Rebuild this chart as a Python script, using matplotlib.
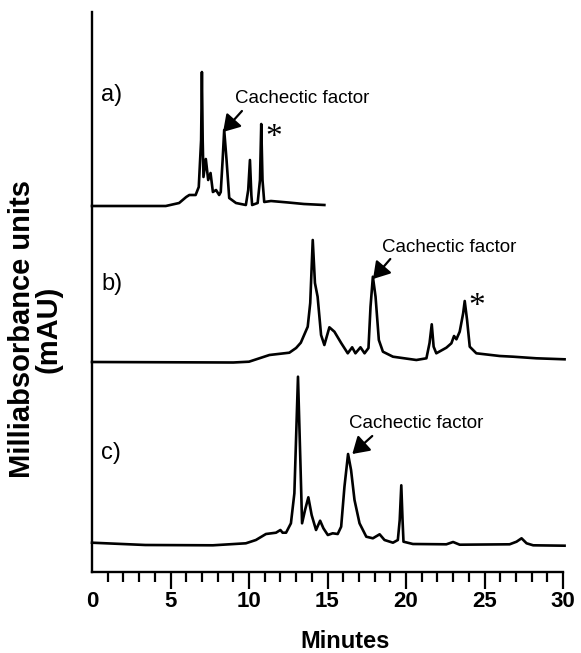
"""
HPLC chromatograms a) b) c) with the cachectic factor peak marked.
Trace values are read off the printed figure (mAU above each trace's baseline).
"""

import numpy as np
import matplotlib
matplotlib.use("Agg")
import matplotlib.pyplot as plt
from matplotlib.ticker import MultipleLocator

plt.rcParams["font.family"] = ["Liberation Sans", "DejaVu Sans"]

# ── data: retention time (min) and absorbance above baseline (mAU) ──
time_a = [0.0, 4.7, 5.55, 6.0, 6.2, 6.6, 6.8, 6.95, 7.0, 7.05, 7.1, 7.25, 7.4,
          7.55, 7.7, 7.9, 8.1, 8.2, 8.32, 8.42, 8.57, 8.74, 9.17, 9.8, 9.95,
          10.06, 10.15, 10.2, 10.55, 10.7, 10.78, 10.86, 10.97, 11.4, 12.5,
          13.5, 14.8]
mau_a = [0, 0, 3, 9, 11, 11, 19, 66, 134, 66, 29, 47, 26,
         33, 14, 16, 11, 14, 46, 76, 46, 8, 3, 1, 16,
         46, 11, 1, 3, 26, 82, 26, 4, 5, 3.5,
         2, 1]

time_b = [0.0, 9.0, 10.0, 11.3, 12.57, 13.0, 13.3, 13.74, 13.9, 14.06, 14.2,
          14.37, 14.59, 14.8, 15.12, 15.44, 15.87, 16.29, 16.57, 16.78, 17.1,
          17.36, 17.61, 17.74, 17.89, 18.06, 18.27, 18.53, 19.17, 20.66, 21.3,
          21.5, 21.64, 21.76, 21.93, 22.57, 22.89, 23.06, 23.21, 23.42, 23.64,
          23.74, 23.89, 24.06, 24.48, 25.97, 26.82, 28.3, 30.1]
mau_b = [0, -0.5, 0.3, 7, 9.3, 14, 19.3, 35.3, 59, 122, 79,
         65.3, 27, 17, 34.7, 30.3, 19, 8.7, 14.7, 8.7, 14.7,
         8.7, 14, 55.3, 85.3, 65.3, 22, 10.3, 5.3, 2, 3.7,
         19, 37.7, 15.3, 8.7, 14.3, 18.7, 26, 22.7, 30.3, 48.7,
         61, 42, 15.3, 8.7, 6, 5.3, 3.7, 2.7]

time_c = [0.0, 3.4, 7.7, 9.8, 10.44, 11.08, 11.72, 12.0, 12.14, 12.36, 12.67,
          12.89, 13.12, 13.27, 13.38, 13.57, 13.78, 13.99, 14.27, 14.53, 14.74,
          15.02, 15.33, 15.65, 15.87, 16.08, 16.31, 16.5, 16.72, 17.04, 17.47,
          17.89, 18.32, 18.63, 19.17, 19.48, 19.6, 19.7, 19.78, 19.84, 20.44,
          22.57, 23.0, 23.42, 26.6, 27.04, 27.36, 27.68, 28.1, 30.1]
mau_c = [2.3, 0, -0.3, 1.7, 5, 11, 12.3, 15, 12.3, 12.3, 21.7,
         51.7, 168.3, 85, 21.7, 35, 47.7, 30, 15, 24.3, 16.7,
         10, 11.7, 11, 18.3, 58.3, 91, 75, 45, 21.7, 8.3,
         6.7, 10.7, 5, 2.3, 5, 25, 59.7, 25, 3.3, 1,
         0.7, 3, 0.3, 0.7, 3.3, 6.7, 1.7, -0.3, -0.7]

panel_labels = ["a)", "b)", "c)"]
peak_label = "Cachectic factor"
x_ticks = [0, 5, 10, 15, 20, 25, 30]

# ── layout (data units of the stacked axis) ──
BASELINES = [366, 210, 27]
LABEL_Y = [477, 288, 119]
# (text x, text y, arrow tail x, tail y, head x, head y)
ARROWS = [(9.1, 474, 9.55, 461, 8.35, 440),
          (18.5, 325, 19.0, 313, 17.9, 293),
          (16.4, 149, 17.85, 136, 16.58, 118)]
STARS = [(11.6, 434), (24.5, 265)]
SAVE_DPI = 100


def _save(fig, path):
    fig.savefig(path, dpi=SAVE_DPI)
    plt.close(fig)
    print(f"  Saved: {path}")


def plot_chromatograms(save_path):
    fig = plt.figure(figsize=(5.81, 6.53))
    ax = fig.add_axes([92 / 581, 81 / 653, 471 / 581, 560 / 653])

    traces = [(time_a, mau_a), (time_b, mau_b), (time_c, mau_c)]
    for (t, y), base in zip(traces, BASELINES):
        ax.plot(t, np.asarray(y) + base, color="black", lw=1.9,
                solid_joinstyle="round", clip_on=False)

    for lab, ly in zip(panel_labels, LABEL_Y):
        ax.text(0.6, ly, lab, fontsize=17, ha="left", va="center")

    for tx, ty, x0, y0, x1, y1 in ARROWS:
        ax.text(tx, ty, peak_label, fontsize=13.5, ha="left", va="center")
        ax.annotate("", xy=(x1, y1), xytext=(x0, y0),
                    arrowprops=dict(arrowstyle="-|>,head_length=0.45,head_width=0.28",
                                    mutation_scale=22, lw=1.6, color="black",
                                    shrinkA=0, shrinkB=0))

    for sx, sy in STARS:
        ax.text(sx, sy, "*", fontsize=24, family="Liberation Serif",
                ha="center", va="center")

    ax.set_xlim(0, 30)
    ax.set_ylim(0, 560)
    ax.set_xticks(x_ticks)
    ax.set_xticklabels([str(v) for v in x_ticks], fontsize=16, fontweight="bold")
    ax.xaxis.set_minor_locator(MultipleLocator(1))
    ax.tick_params(axis="x", which="major", length=12, width=1.6, pad=2)
    ax.tick_params(axis="x", which="minor", length=7, width=1.6)
    ax.xaxis.get_major_ticks()[0].tick1line.set_visible(False)
    ax.set_yticks([])
    for side in ["top", "right"]:
        ax.spines[side].set_visible(False)
    for side in ["left", "bottom"]:
        ax.spines[side].set_linewidth(1.7)

    fig.text(345 / 581, 5 / 653, "Minutes", fontsize=17, fontweight="bold",
             ha="center", va="baseline")
    fig.text(35 / 581, 1 - 329 / 653, "Milliabsorbance units\n(mAU)",
             fontsize=21, fontweight="bold", rotation=90, ha="center",
             va="center", multialignment="center", linespacing=0.95)

    _save(fig, save_path)


if __name__ == "__main__":
    plot_chromatograms("out.png")
